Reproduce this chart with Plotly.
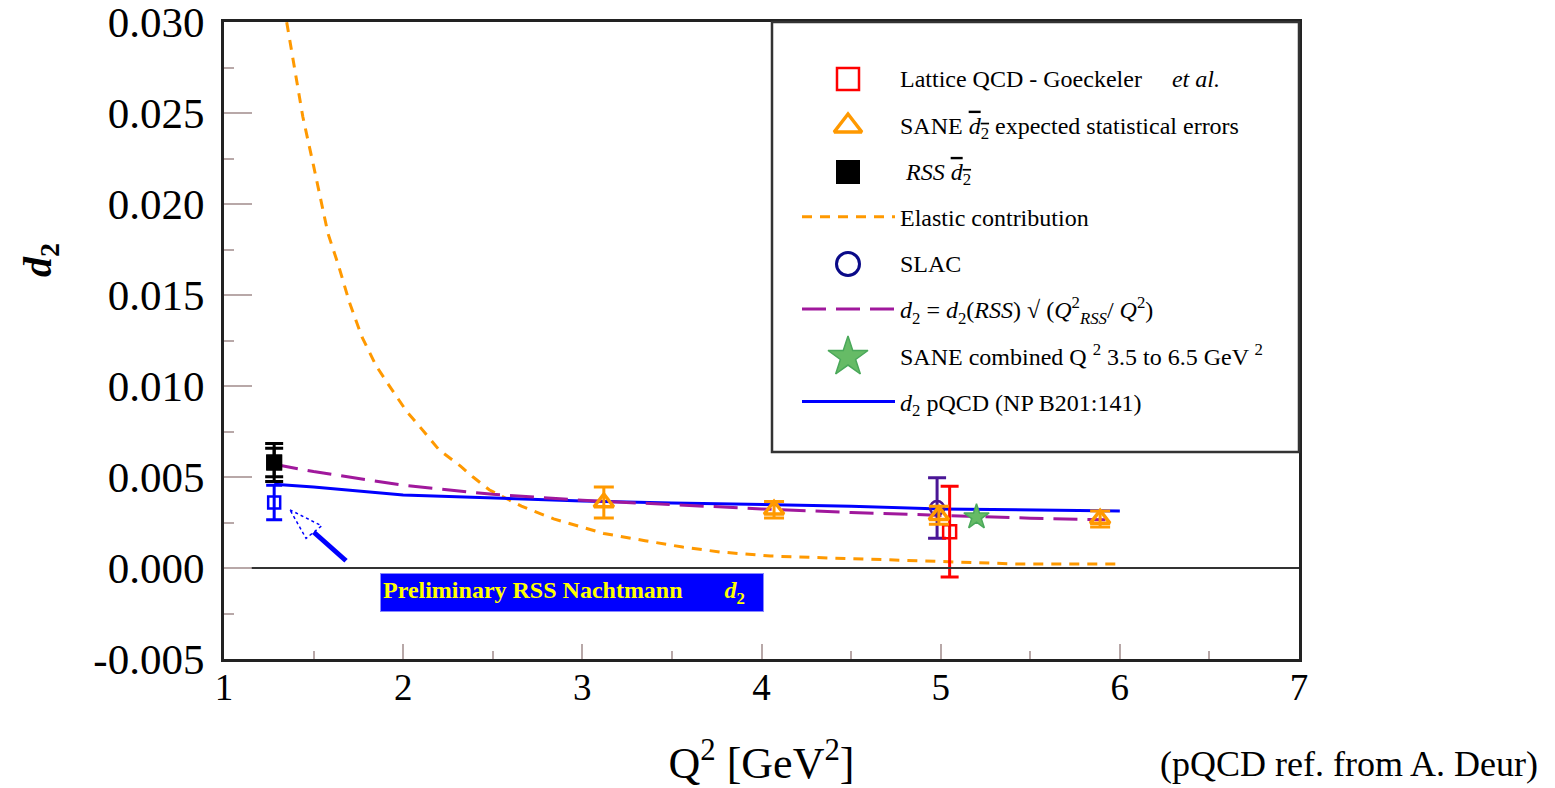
import plotly.graph_objects as go

FONT = "Liberation Serif"

# ---------------- data ----------------
# Elastic contribution
elastic_q2 = [1.35, 1.44, 1.50, 1.58, 1.64, 1.70, 1.77, 1.85, 1.91, 2.02, 2.09, 2.20, 2.32, 2.39,
              2.48, 2.56, 2.66, 2.84, 3.12, 3.35, 3.56, 3.77, 4.05, 4.39, 4.74, 5.09, 5.44, 5.99]
elastic_d2 = [0.0300, 0.0248, 0.0221, 0.0184, 0.0166, 0.0146, 0.0127, 0.0111, 0.0102, 0.0086, 0.0078,
              0.0065, 0.0056, 0.0050, 0.0043, 0.0039, 0.0034, 0.0027, 0.0019, 0.0015, 0.00115,
              0.00088, 0.00066, 0.00055, 0.00044, 0.00033, 0.00022, 0.00022]

# pQCD (NP B201:141)
pqcd_q2 = [1.28, 1.5, 2.0, 2.5, 3.0, 3.5, 4.0, 4.5, 5.0, 5.5, 6.0]
pqcd_d2 = [0.0046, 0.00445, 0.00402, 0.00386, 0.00368, 0.00358, 0.00348, 0.0034, 0.00325, 0.00318, 0.00314]

# d2 = d2(RSS) sqrt(Q2_RSS / Q2)
scal_q2 = [1.28, 1.5, 2.0, 2.5, 3.0, 3.5, 4.0, 4.5, 5.0, 5.5, 5.92]
scal_d2 = [0.0057, 0.0053, 0.00455, 0.00405, 0.00372, 0.00348, 0.00325, 0.00305, 0.00288, 0.00274, 0.00265]

# RSS d2 (stat and total error)
rss_q2 = [1.28]
rss_d2 = [0.0058]
rss_err_inner = [0.00078]
rss_err_outer = [0.00105]

# Preliminary RSS Nachtmann d2
nacht_q2 = [1.28]
nacht_d2 = [0.0036]
nacht_err = [0.00095]

# SANE expected statistical errors
sane_q2 = [3.12, 4.07, 4.99, 5.89]
sane_d2 = [0.0036, 0.0032, 0.0029, 0.0027]
sane_err = [0.00085, 0.00045, 0.0005, 0.00044]

# SLAC
slac_q2 = [4.98]
slac_d2 = [0.0033]
slac_err = [0.00166]

# Lattice QCD - Goeckeler et al.
latt_q2 = [5.05]
latt_d2 = [0.0020]
latt_err = [0.0025]

# SANE combined
comb_q2 = [5.2]
comb_d2 = [0.0028]

y_tickvals = [-0.005, 0.0, 0.005, 0.010, 0.015, 0.020, 0.025, 0.030]
y_ticktext = ["-0.005", "0.000", "0.005", "0.010", "0.015", "0.020", "0.025", "0.030"]
x_tickvals = [1, 2, 3, 4, 5, 6, 7]
x_ticktext = ["1", "2", "3", "4", "5", "6", "7"]

ORANGE = "#ff9900"
PURPLE = "#a0189c"
BLUE = "#0000ff"
RED = "#ff0000"
GREEN = "#66bb66"
GREEN_EDGE = "#4aa85a"

fig = go.Figure()

# ---------------- plotted traces ----------------
fig.add_trace(go.Scatter(x=elastic_q2, y=elastic_d2, mode="lines", showlegend=False,
                         line=dict(color=ORANGE, width=3, dash="10px,8px")))
fig.add_trace(go.Scatter(x=pqcd_q2, y=pqcd_d2, mode="lines", showlegend=False,
                         line=dict(color=BLUE, width=3)))
fig.add_trace(go.Scatter(x=scal_q2, y=scal_d2, mode="lines", showlegend=False,
                         line=dict(color=PURPLE, width=3, dash="24px,10px")))

fig.add_trace(go.Scatter(x=rss_q2, y=rss_d2, mode="markers", showlegend=False,
                         marker=dict(symbol="square", size=16, color="black"),
                         error_y=dict(type="data", array=rss_err_outer, color="black", thickness=3, width=9)))
fig.add_trace(go.Scatter(x=rss_q2, y=rss_d2, mode="markers", showlegend=False,
                         marker=dict(symbol="square", size=16, color="black"),
                         error_y=dict(type="data", array=rss_err_inner, color="black", thickness=3, width=9)))
fig.add_trace(go.Scatter(x=nacht_q2, y=nacht_d2, mode="markers", showlegend=False,
                         marker=dict(symbol="square-open", size=12, color=BLUE, line=dict(width=2.5)),
                         error_y=dict(type="data", array=nacht_err, color=BLUE, thickness=3, width=8)))
fig.add_trace(go.Scatter(x=slac_q2, y=slac_d2, mode="markers", showlegend=False,
                         marker=dict(symbol="circle-open", size=14, color="#4a1696", line=dict(width=2.5)),
                         error_y=dict(type="data", array=slac_err, color="#4a1696", thickness=3, width=9)))
fig.add_trace(go.Scatter(x=latt_q2, y=latt_d2, mode="markers", showlegend=False,
                         marker=dict(symbol="square-open", size=13, color=RED, line=dict(width=2.5)),
                         error_y=dict(type="data", array=latt_err, color=RED, thickness=3, width=9)))
fig.add_trace(go.Scatter(x=sane_q2, y=sane_d2, mode="markers", showlegend=False,
                         marker=dict(symbol="triangle-up-open", size=17, color=ORANGE, line=dict(width=3.5)),
                         error_y=dict(type="data", array=sane_err, color=ORANGE, thickness=3, width=10)))
fig.add_trace(go.Scatter(x=comb_q2, y=comb_d2, mode="markers", showlegend=False,
                         marker=dict(symbol="star", size=19, color=GREEN,
                                     line=dict(color=GREEN_EDGE, width=1.5))))

# ---------------- legend entries ----------------
# (text, line style or None, big symbol or None)
CLEAR = dict(color="rgba(0,0,0,0)", size=1, line=dict(width=0))
LEG = [
    ("Lattice QCD - Goeckeler\u00a0\u00a0\u00a0\u00a0 <i>et al.</i>", None,
     dict(symbol="square-open", size=22, color=RED, line=dict(width=2.5))),
    ("SANE <span style=\"text-decoration:overline\"><i>d</i><sub>2</sub></span> expected statistical errors", None,
     dict(symbol="triangle-up-open", size=24, color=ORANGE, line=dict(width=3.5))),
    ("\u00a0<i>RSS</i> <span style=\"text-decoration:overline\"><i>d</i><sub>2</sub></span>", None,
     dict(symbol="square", size=24, color="black")),
    ("Elastic contribution", dict(color=ORANGE, width=3, dash="10px,8px"), None),
    ("SLAC", None, dict(symbol="circle-open", size=23, color="#0a0a88", line=dict(width=3))),
    ("<i>d</i><sub>2</sub> = <i>d</i><sub>2</sub>(<i>RSS</i>) \u221a (<i>Q</i><sup>2</sup><sub><i>RSS</i></sub>/ <i>Q</i><sup>2</sup>)",
     dict(color=PURPLE, width=3, dash="24px,10px"), None),
    ("SANE combined Q <sup>2</sup> 3.5 to 6.5 GeV <sup>2</sup>", None,
     dict(symbol="star", size=30, color=GREEN, line=dict(color=GREEN_EDGE, width=1.5))),
    ("<i>d</i><sub>2</sub> pQCD (NP B201:141)", dict(color=BLUE, width=3), None),
]
# pixel rows of the legend entries (layout, not data)
LEG_ROW_PX = [79, 126, 172, 218, 264, 311, 357, 404]
LEG_SYMBOL_X_PX = 848

for i, (name, line, sym) in enumerate(LEG):
    if line is not None:
        fig.add_trace(go.Scatter(x=[None], y=[None], name=name, mode="lines", line=line,
                                 showlegend=True, legendgroup="g%d" % i, legendrank=i + 1))
    else:
        fig.add_trace(go.Scatter(x=[None], y=[None], name=name, mode="markers", marker=CLEAR,
                                 showlegend=True, legendgroup="g%d" % i, legendrank=i + 1))
        # large legend symbol drawn on an overlay axis in pixel units
        fig.add_trace(go.Scatter(x=[LEG_SYMBOL_X_PX], y=[LEG_ROW_PX[i]], mode="markers", marker=sym,
                                 xaxis="x2", yaxis="y2", showlegend=False, hoverinfo="skip"))

# ---------------- layout ----------------
W, H = 1555, 788
L, R, T, B = 224, 256, 22, 129
pw, ph = W - L - R, H - T - B


def px(xp):
    return (xp - L) / pw


def py(yp):
    return (H - B - yp) / ph


BOX_L, BOX_B = 772, 452

fig.update_layout(
    width=W, height=H,
    margin=dict(l=L, r=R, t=T, b=B, autoexpand=False),
    paper_bgcolor="white", plot_bgcolor="white",
    font=dict(family=FONT, color="black"),
    legend=dict(x=px(797), y=py(56), xanchor="left", yanchor="top",
                bgcolor="rgba(0,0,0,0)", borderwidth=0, itemwidth=93,
                tracegroupgap=12, traceorder="grouped",
                font=dict(family=FONT, size=24, color="black")),
    xaxis=dict(range=[1, 7], tickvals=x_tickvals, ticktext=x_ticktext, automargin=False,
               showgrid=False, zeroline=False, showline=True, mirror=True,
               linecolor="#222222", linewidth=3,
               ticks="inside", ticklen=15, tickwidth=1.5, tickcolor="#b8a8a8",
               minor=dict(dtick=0.5, ticks="inside", ticklen=8, tickwidth=1.5, tickcolor="#b8a8a8"),
               tickfont=dict(family=FONT, size=37), ticklabelstandoff=-6,
               title=dict(text="Q<sup>2</sup> [GeV<sup>2</sup>]", font=dict(family=FONT, size=44), standoff=43)),
    yaxis=dict(range=[-0.005, 0.03001], tickvals=y_tickvals, ticktext=y_ticktext, automargin=False,
               showgrid=False, zeroline=False, showline=True, mirror=True,
               linecolor="#222222", linewidth=3,
               ticks="inside", ticklen=28, tickwidth=1.5, tickcolor="#b8a8a8",
               minor=dict(dtick=0.0025, ticks="inside", ticklen=10, tickwidth=1.5, tickcolor="#b8a8a8"),
               tickfont=dict(family=FONT, size=43), ticklabelstandoff=8,
               ticklabeloverflow="allow"),
    xaxis2=dict(domain=[px(BOX_L), 1.0], range=[BOX_L, W - R], anchor="y2", visible=False,
                fixedrange=True, automargin=False),
    yaxis2=dict(domain=[py(BOX_B), 1.0], range=[BOX_B, T], anchor="x2", visible=False,
                fixedrange=True, automargin=False),
)

# zero line
fig.add_shape(type="line", xref="x", yref="y", x0=1.155, x1=7, y0=0, y1=0,
              line=dict(color="#333333", width=2))
# legend box
fig.add_shape(type="rect", xref="paper", yref="paper", x0=px(BOX_L), x1=1.0, y0=py(BOX_B), y1=1.0,
              line=dict(color="#333333", width=2.5), fillcolor="rgba(0,0,0,0)")
# arrow to the Nachtmann point
fig.add_shape(type="line", xref="x", yref="y", x0=1.681, y0=0.0004, x1=1.50, y1=0.00198,
              line=dict(color=BLUE, width=5))
fig.add_shape(type="path", xref="x", yref="y",
              path="M 1.368,0.0032 L 1.545,0.00232 L 1.458,0.00163 Z",
              fillcolor="white", line=dict(color=BLUE, width=1.5, dash="dot"))

# y-axis label
fig.add_annotation(xref="paper", yref="paper", x=px(40), y=py(260), xanchor="center", yanchor="middle",
                   text="<b><i>d</i><sub>2</sub></b>",
                   showarrow=False, textangle=-90, font=dict(family=FONT, size=40))
# note
fig.add_annotation(xref="paper", yref="paper", x=px(1540), y=py(764), xanchor="right", yanchor="middle",
                   text="(pQCD ref. from A. Deur)", showarrow=False, font=dict(family=FONT, size=36))
# preliminary box
fig.add_annotation(xref="paper", yref="paper", x=px(380), y=py(573), xanchor="left", yanchor="top",
                   text="<b>Preliminary RSS Nachtmann\u00a0\u00a0\u00a0\u00a0\u00a0\u00a0 <i>d</i><sub>2</sub></b>",
                   showarrow=False, bgcolor=BLUE, bordercolor="#8888ff", borderwidth=1, borderpad=2,
                   width=378, height=33, align="left", valign="middle",
                   font=dict(family=FONT, size=24, color="#ffff00"))

fig.write_html("out.html")
